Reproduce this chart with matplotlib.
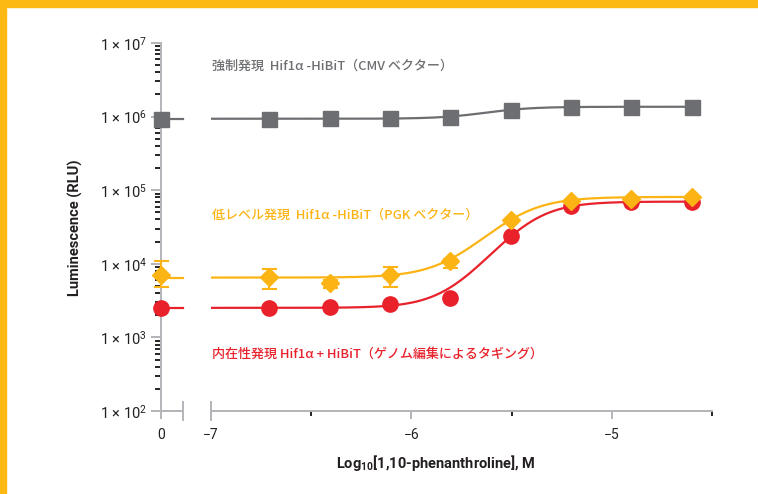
"""Dose-response of Hif1a-HiBiT luminescence vs. 1,10-phenanthroline (log M)."""
import numpy as np
import matplotlib
matplotlib.use("Agg")
import matplotlib.pyplot as plt
from matplotlib.patches import Rectangle
from matplotlib.ticker import FixedLocator, LogLocator, NullFormatter

plt.rcParams.update({"font.family": ["Roboto", "DejaVu Sans"], "mathtext.fontset": "custom",
                     "mathtext.rm": "Roboto", "mathtext.default": "regular"})

# concentrations (log10 M); the 0-point (no compound) is drawn on the broken segment
log_conc = [-6.709, -6.408, -6.107, -5.806, -5.505, -5.204, -4.903, -4.602]

cmv_zero = 9.3e5
cmv = [9.25e5, 9.5e5, 9.7e5, 1.0e6, 1.24e6, 1.37e6, 1.35e6, 1.35e6]

pgk_zero = 6950
pgk_zero_err = (2180, 3850)
pgk = [6530, 5400, 6950, 10800, 39000, 71000, 77000, 81000]
pgk_err_lo = [2050, 700, 2180, 1900, 0, 0, 0, 0]
pgk_err_hi = [1870, 700, 1990, 1000, 0, 0, 0, 0]

endo_zero = 2540
endo = [2540, 2620, 2880, 3480, 23700, 60700, 69500, 69500]

# 4PL fit parameters: bottom, top, logEC50, hill
fit_cmv = (9.35e5, 1.36e6, -5.61, 3.7)
fit_pgk = (6500, 81000, -5.476, 3.44)
fit_endo = (2520, 70000, -5.411, 3.7)

labels = ["強制発現  Hif1α -HiBiT（CMV ベクター）",
          "低レベル発現  Hif1α -HiBiT（PGK ベクター）",
          "内在性発現 Hif1α + HiBiT（ゲノム編集によるタギング）"]

GRAY, ORANGE, RED = "#6d6e71", "#fcb415", "#e8212b"
AXC = "#b4b4b9"
W, H = 758, 494


def fourpl(x, p):
    b, t, ec, h = p
    return b + (t - b) / (1 + 10 ** (h * (ec - x)))


fig = plt.figure(figsize=(W / 100, H / 100), dpi=100)
fig.patches.append(Rectangle((0, 1 - 7 / H), 1, 7 / H, transform=fig.transFigure,
                             color="#fdb913", zorder=0))
fig.patches.append(Rectangle((0, 0), 6 / W, 1, transform=fig.transFigure,
                             color="#fdb913", zorder=0))

bot, top = 1 - 411 / H, 1 - 43 / H
axz = fig.add_axes([161 / W, bot, 22 / W, top - bot])
ax = fig.add_axes([211 / W, bot, (712 - 211) / W, top - bot], sharey=axz)

for a in (axz, ax):
    a.set_yscale("log")
    a.set_ylim(1e2, 1e7)
    for s in ("top", "right"):
        a.spines[s].set_visible(False)
    for s in ("left", "bottom"):
        a.spines[s].set_color(AXC)
        a.spines[s].set_linewidth(1.4)
    a.tick_params(colors=AXC, labelcolor="#231f20", labelsize=10, width=1.4)
    a.set_facecolor("none")

ax.spines["left"].set_visible(False)
ax.tick_params(axis="y", which="both", left=False, labelleft=False)

axz.yaxis.set_major_locator(FixedLocator([1e2, 1e3, 1e4, 1e5, 1e6, 1e7]))
axz.yaxis.set_minor_locator(LogLocator(base=10, subs=np.arange(2, 10)))
axz.yaxis.set_minor_formatter(NullFormatter())
axz.set_yticklabels([f"1 × 10$^{{{k}}}$" for k in range(2, 8)])
axz.tick_params(axis="y", which="major", length=7, pad=3, labelsize=10.5)
axz.tick_params(axis="y", which="minor", length=4, width=1.2)

axz.set_xlim(0, 1)
axz.set_xticks([0])
axz.set_xticklabels(["0"])
axz.tick_params(axis="x", length=6, pad=6)

ax.set_xlim(-7, -4.5)
ax.set_xticks([-7, -6, -5])
ax.set_xticklabels(["−7", "−6", "−5"])
ax.set_xticks([-6.5, -5.5, -4.5], minor=True)
ax.tick_params(axis="x", which="major", length=6, pad=6)
ax.tick_params(axis="x", which="minor", length=3.5, width=1.2)

# break caps
cap = 9 / (411 - 43)
axz.plot([1, 1], [-cap, cap], color=AXC, lw=1.4, transform=axz.get_xaxis_transform(), clip_on=False)
ax.plot([-7, -7], [-cap, cap], color=AXC, lw=1.4, transform=ax.get_xaxis_transform(), clip_on=False)

xs = np.linspace(-7, log_conc[-1], 300)
series = [(cmv_zero, cmv, fit_cmv, GRAY, "s", 10.8, 3),
          (endo_zero, endo, fit_endo, RED, "o", 11, 4),
          (pgk_zero, pgk, fit_pgk, ORANGE, "D", 8.7, 5)]
for zero, vals, fit, col, mk, ms, z in series:
    ax.plot(xs, fourpl(xs, fit), color=col, lw=1.6, zorder=z)
    ax.plot(log_conc, vals, ls="none", marker=mk, ms=ms, color=col, zorder=z + 0.5, clip_on=False)
    axz.plot([0, 1], [fit[0], fit[0]], color=col, lw=1.6, zorder=z, clip_on=False)
    axz.plot([0], [zero], ls="none", marker=mk, ms=ms, color=col, zorder=z + 0.5, clip_on=False)

ax.errorbar(log_conc, pgk, yerr=[pgk_err_lo, pgk_err_hi], fmt="none", ecolor=ORANGE,
            elinewidth=1.5, capsize=5.4, capthick=1.5, zorder=5)
axz.errorbar([0], [pgk_zero], yerr=[[pgk_zero_err[0]], [pgk_zero_err[1]]], fmt="none",
             ecolor=ORANGE, elinewidth=1.5, capsize=5.4, capthick=1.5, zorder=5, clip_on=False)

jp = ["Noto Sans CJK JP", "DejaVu Sans"]
for txt, col, ypx in zip(labels, (GRAY, ORANGE, RED), (66, 215.5, 354)):
    fig.text(212 / W, 1 - ypx / H, txt, color=col, fontsize=9.4, family=jp, va="center",
             ha="left", fontweight="medium")

fig.text(75 / W, 1 - 228 / H, "Luminescence (RLU)", rotation=90, ha="center", va="center",
         fontsize=10.5, fontweight="bold", color="#231f20")
fig.text(436 / W, 1 - 463 / H, "Log$_{10}$[1,10-phenanthroline], M", ha="center", va="center",
         fontsize=10.5, fontweight="bold", color="#231f20")

fig.savefig("out.png", dpi=100, facecolor="white")
